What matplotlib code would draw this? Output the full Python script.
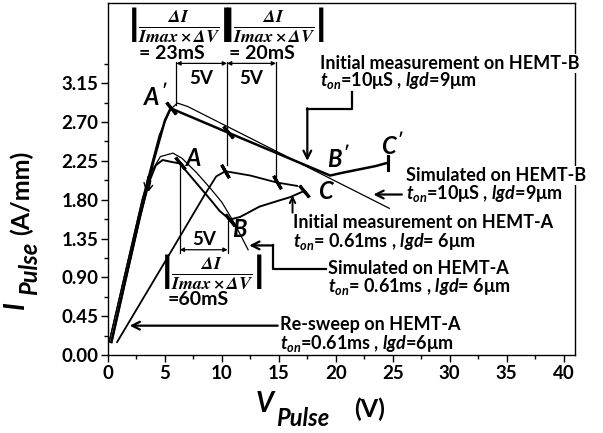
import matplotlib
matplotlib.use('Agg')
import matplotlib.pyplot as plt
from matplotlib.ticker import MultipleLocator, FixedLocator

plt.rcParams['font.family'] = ['Lato', 'DejaVu Sans']
plt.rcParams['font.weight'] = 'bold'
plt.rcParams['mathtext.fontset'] = 'custom'
plt.rcParams['mathtext.it'] = 'Lato:italic:bold'
plt.rcParams['mathtext.rm'] = 'Lato:bold'
plt.rcParams['mathtext.bf'] = 'Lato:bold'

# ---------------- data ----------------
hemtB_meas_v = [0.3, 1.5, 2.8, 4.0, 5.0, 5.5, 10.5, 15.0, 19.5, 20.5, 22.0, 23.5, 24.6]
hemtB_meas_i = [0.15, 0.85, 1.60, 2.25, 2.72, 2.86, 2.58, 2.33, 2.08, 2.11, 2.15, 2.19, 2.23]

hemtB_sim_v = [0.1, 1.5, 3.0, 4.5, 5.5, 6.1, 7.0, 24.7]
hemtB_sim_i = [0.15, 0.95, 1.80, 2.55, 2.85, 2.92, 2.88, 1.70]

hemtA_meas_v = [0.3, 1.5, 2.8, 3.6, 4.2, 4.8, 5.5, 6.3, 7.2, 8.1, 9.0, 9.8, 10.7,
                11.6, 13.3, 15.0, 16.0, 17.2]
hemtA_meas_i = [0.15, 0.85, 1.60, 2.00, 2.20, 2.26, 2.24, 2.22, 2.08, 1.94, 1.80, 1.67, 1.57,
                1.60, 1.72, 1.79, 1.83, 1.90]

hemtA_sim_v = [0.1, 1.5, 3.0, 3.8, 4.6, 5.7, 6.5, 7.8, 9.0, 10.0, 11.0, 11.6, 12.3]
hemtA_sim_i = [0.15, 0.95, 1.80, 2.12, 2.30, 2.34, 2.28, 2.11, 1.93, 1.77, 1.55, 1.40, 1.22]

resweep_v = [0.8, 5.0, 8.5, 9.5, 10.3, 12.5, 14.8, 16.6]
resweep_i = [0.15, 1.08, 1.86, 2.07, 2.13, 2.08, 2.00, 1.96]

x_ticks = [0, 5, 10, 15, 20, 25, 30, 35, 40]
y_ticks = [0.00, 0.45, 0.90, 1.35, 1.80, 2.25, 2.70, 3.15]
y_tick_labels = ['0.00', '0.45', '0.90', '1.35', '1.80', '2.25', '2.70', '3.15']

W, H = 603, 433
fig = plt.figure(figsize=(W / 100, H / 100), dpi=100)
ax = fig.add_axes([108 / W, 1 - 355 / H, (575 - 108) / W, (355 - 3) / H])
ax.set_xlim(0, 41.0)
ax.set_ylim(0, 4.08)

# curves
ax.plot(hemtB_sim_v, hemtB_sim_i, color='black', lw=0.9)
ax.plot(hemtB_meas_v, hemtB_meas_i, color='black', lw=1.8)
ax.plot(hemtA_sim_v, hemtA_sim_i, color='black', lw=0.9)
ax.plot(hemtA_meas_v, hemtA_meas_i, color='black', lw=1.4)
ax.plot(resweep_v, resweep_i, color='black', lw=1.3)

# ticks
ax.xaxis.set_major_locator(FixedLocator(x_ticks))
ax.xaxis.set_minor_locator(MultipleLocator(2.5))
ax.yaxis.set_major_locator(FixedLocator(y_ticks))
ax.yaxis.set_minor_locator(FixedLocator([0.225 + 0.45 * k for k in range(8)]))
ax.set_yticklabels(y_tick_labels)
ax.tick_params(which='major', direction='out', length=5, width=1, labelsize=13.5, pad=2)
ax.tick_params(which='minor', direction='out', length=3, width=1)
for lab in ax.get_xticklabels() + ax.get_yticklabels():
    lab.set_fontweight('bold')
for sp in ax.spines.values():
    sp.set_linewidth(1.0)

# short cross marks on the curves
def tick_mark(x, y, ang):
    ax.plot([x], [y], marker=(2, 2, ang), ms=11, mew=2.2, color='black')

tick_mark(hemtB_meas_v[5], hemtB_meas_i[5], 40)
tick_mark(hemtB_meas_v[6], hemtB_meas_i[6], 40)
tick_mark(hemtA_meas_v[7], hemtA_meas_i[7], 40)
tick_mark(hemtA_meas_v[12], hemtA_meas_i[12], 40)
tick_mark(resweep_v[4], resweep_i[4], 30)
tick_mark(resweep_v[6], resweep_i[6], 30)
tick_mark(hemtA_meas_v[-1], hemtA_meas_i[-1], 40)
tick_mark(hemtB_meas_v[-1], hemtB_meas_i[-1], 0)

# point letters
pl = dict(fontsize=17, ha='center', va='center')
ax.text(4.2, 3.00, r"$A'$", **pl)
ax.text(7.5, 2.28, r"$A$", **pl)
ax.text(11.6, 1.46, r"$B$", **pl)
ax.text(19.2, 1.90, r"$C$", **pl)
ax.text(20.2, 2.28, r"$B'$", **pl)
ax.text(25.0, 2.43, r"$C'$", **pl)

# sweep arrows on the rising part
ax.annotate('', xy=(3.5, 1.86), xytext=(3.8, 2.05),
            arrowprops=dict(arrowstyle='->', lw=1.0, color='black'))
ax.annotate('', xy=(3.25, 1.88), xytext=(3.55, 2.1),
            arrowprops=dict(arrowstyle='->', lw=1.0, color='black'))

# ---- top: 5V spans and transconductance fractions ----
lk = dict(color='black', lw=0.9)
ax.plot([6.0, 6.0], [3.40, 2.90], **lk)
ax.plot([10.45, 10.45], [3.40, 2.20], **lk)
ax.plot([14.75, 14.75], [3.40, 2.02], **lk)
dbl = dict(arrowstyle='<|-|>', lw=0.9, color='black', mutation_scale=6, shrinkA=0, shrinkB=0)
ax.annotate('', xy=(6.0, 3.38), xytext=(10.45, 3.38), arrowprops=dbl)
ax.annotate('', xy=(10.45, 3.38), xytext=(14.75, 3.38), arrowprops=dbl)
ax.text(8.2, 3.21, '5V', fontsize=13.5, ha='center', va='center')
ax.text(12.55, 3.21, '5V', fontsize=13.5, ha='center', va='center')

frac = r'$\left|\frac{\mathbfit{\Delta I}}{\mathbfit{Imax\times\Delta V}}\right|$'
ax.text(6.2, 3.83, frac, fontsize=18.5, ha='center', va='center', math_fontfamily='stix')
ax.text(14.6, 3.83, frac, fontsize=18.5, ha='center', va='center', math_fontfamily='stix')
ax.text(5.6, 3.50, '= 23mS', fontsize=14, ha='center', va='center')
ax.text(13.5, 3.50, '= 20mS', fontsize=14, ha='center', va='center')

# ---- bottom: 60mS span ----
ax.plot([6.3, 6.3], [2.20, 1.18], **lk)
ax.plot([10.5, 10.5], [1.55, 1.18], **lk)
ax.annotate('', xy=(6.3, 1.22), xytext=(10.5, 1.22), arrowprops=dbl)
ax.text(8.4, 1.34, '5V', fontsize=13.5, ha='center', va='center')
ax.text(9.1, 0.97, frac, fontsize=18.5, ha='center', va='center', math_fontfamily='stix')
ax.text(7.9, 0.64, '=60mS', fontsize=14, ha='center', va='center')

# ---- labelled annotations ----
tk = dict(fontsize=13, ha='left', va='center')
wb = dict(facecolor='white', edgecolor='none', pad=0.5)
ax.text(18.6, 3.38, 'Initial measurement on HEMT-B', bbox=wb, **tk)
ax.text(18.6, 3.18, r'$t_{on}$=10μS , $lgd$=9μm', **tk)
ax.plot([21.4, 21.4, 17.5], [3.05, 2.85, 2.85], **dict(color='black', lw=1.6))
ax.annotate('', xy=(17.5, 2.25), xytext=(17.5, 2.86),
            arrowprops=dict(arrowstyle='->', lw=1.6, color='black', mutation_scale=14, shrinkA=0, shrinkB=0))

ax.text(26.2, 2.08, 'Simulated on HEMT-B', bbox=wb, **tk)
ax.text(26.2, 1.87, r'$t_{on}$=10μS , $lgd$=9μm', **tk)
ax.annotate('', xy=(23.3, 1.86), xytext=(25.8, 1.86),
            arrowprops=dict(arrowstyle='->', lw=1.6, color='black', mutation_scale=14, shrinkA=0, shrinkB=0))

ax.text(16.2, 1.54, 'Initial measurement on HEMT-A', **tk)
ax.text(16.2, 1.32, r'$t_{on}$= 0.61ms , $lgd$= 6μm', **tk)
ax.annotate('', xy=(16.2, 1.85), xytext=(16.2, 1.65),
            arrowprops=dict(arrowstyle='->', lw=1.4, color='black', mutation_scale=10, shrinkA=0, shrinkB=0))

ax.text(19.3, 1.00, 'Simulated on HEMT-A', **tk)
ax.text(19.3, 0.79, r'$t_{on}$= 0.61ms , $lgd$= 6μm', **tk)
ax.plot([19.1, 14.5, 14.5], [1.00, 1.00, 1.27], color='black', lw=1.6)
ax.annotate('', xy=(12.4, 1.27), xytext=(14.5, 1.27),
            arrowprops=dict(arrowstyle='->', lw=1.6, color='black', mutation_scale=14, shrinkA=0, shrinkB=0))

ax.text(15.1, 0.35, 'Re-sweep on HEMT-A', **tk)
ax.text(15.1, 0.13, r'$t_{on}$=0.61ms , $lgd$=6μm', **tk)
ax.annotate('', xy=(1.9, 0.34), xytext=(14.9, 0.34),
            arrowprops=dict(arrowstyle='->', lw=1.6, color='black', mutation_scale=14, shrinkA=0, shrinkB=0))

# ---- axis labels (built from pieces) ----
def px(x, y):
    return x / W, 1 - y / H

fig.text(*px(256, 404), 'V', fontsize=20, style='italic', weight='bold', ha='left', va='center')
fig.text(*px(276, 418), 'Pulse', fontsize=17, style='italic', weight='bold', ha='left', va='center')
fig.text(*px(354, 409), '(V)', fontsize=18, weight='bold', ha='left', va='center')

fig.text(*px(16, 305), 'I', fontsize=20, style='italic', weight='bold', ha='center', va='center', rotation=90)
fig.text(*px(30, 268), 'Pulse', fontsize=17, style='italic', weight='bold', ha='center', va='center', rotation=90)
fig.text(*px(21, 193), '(A/mm)', fontsize=18, weight='bold', ha='center', va='center', rotation=90)

fig.savefig('out.png', dpi=100)
